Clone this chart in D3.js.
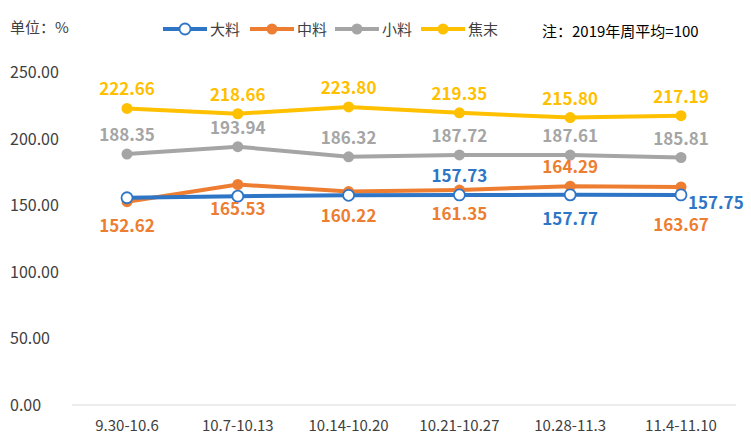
<!DOCTYPE html><html><head><meta charset="utf-8"><script src="https://cdn.jsdelivr.net/npm/d3@7"></script>
<style>body{margin:0;background:#fff}text{font-family:"Microsoft YaHei","Noto Sans CJK SC",sans-serif}</style></head><body>
<svg id="c" width="751" height="448"></svg>
<script>
const categories=["9.30-10.6","10.7-10.13","10.14-10.20","10.21-10.27","10.28-11.3","11.4-11.10"];
const daliao=[155.6,156.8,157.4,157.73,157.77,157.75];
const zhongliao=[152.62,165.53,160.22,161.35,164.29,163.67];
const xiaoliao=[188.35,193.94,186.32,187.72,187.61,185.81];
const jiaomo=[222.66,218.66,223.80,219.35,215.80,217.19];
const yTicks=[0,50,100,150,200,250];
const daliaoLabelPos=["none","none","none","above","below","right"];
const zhongliaoLabelPos=["below","below","below","below","above","belowfar"];
const series=[
 {name:"大料",vals:daliao,color:"#2E75C6",hollow:true,pos:daliaoLabelPos},
 {name:"中料",vals:zhongliao,color:"#ED7D31",pos:zhongliaoLabelPos},
 {name:"小料",vals:xiaoliao,color:"#A5A5A5",pos:categories.map(()=>"above")},
 {name:"焦末",vals:jiaomo,color:"#FFC000",pos:categories.map(()=>"above")}];
const svg=d3.select("#c");
const x=d3.scalePoint().domain(categories).range([127,681]);
const y=d3.scaleLinear().domain([0,250]).range([405,72]);
svg.append("line").attr("x1",72).attr("x2",736).attr("y1",y(0)).attr("y2",y(0)).attr("stroke","#d9d9d9");
yTicks.forEach(t=>svg.append("text").attr("x",10).attr("y",y(t)+6).attr("font-size",16).attr("fill","#404040").text(t.toFixed(2)));
categories.forEach(c=>svg.append("text").attr("x",x(c)).attr("y",431).attr("text-anchor","middle").attr("font-size",15).attr("fill","#404040").text(c));
const line=d3.line().x((d,i)=>x(categories[i])).y(d=>y(d));
[...series].reverse().forEach(s=>{
 svg.append("path").attr("d",line(s.vals)).attr("fill","none").attr("stroke",s.color).attr("stroke-width",4);
 s.vals.forEach((v,i)=>svg.append("circle").attr("cx",x(categories[i])).attr("cy",y(v)).attr("r",5.5)
  .attr("fill",s.hollow?"#fff":s.color).attr("stroke",s.color).attr("stroke-width",s.hollow?1.8:0));
});
series.forEach(s=>s.vals.forEach((v,i)=>{
 const p=s.pos[i]; if(p==="none")return;
 const cx=x(categories[i]),cy=y(v);
 const t=svg.append("text").attr("font-size",17).attr("font-weight","bold").attr("fill",s.color).text(v.toFixed(2));
 if(p==="above")t.attr("x",cx).attr("y",cy-13).attr("text-anchor","middle");
 else if(p==="below")t.attr("x",cx).attr("y",cy+30).attr("text-anchor","middle");
 else if(p==="belowfar")t.attr("x",cx).attr("y",cy+44).attr("text-anchor","middle");
 else t.attr("x",cx+7).attr("y",cy+14);
}));
svg.append("text").attr("x",10).attr("y",33).attr("font-size",15).attr("fill","#404040").text("单位：%");
svg.append("text").attr("x",542).attr("y",37).attr("font-size",15).attr("fill","#000").text("注：2019年周平均=100");
const lx=[163,250,335,421];
series.forEach((s,i)=>{
 const g=svg.append("g");
 g.append("line").attr("x1",lx[i]).attr("x2",lx[i]+44).attr("y1",29).attr("y2",29).attr("stroke",s.color).attr("stroke-width",4);
 g.append("circle").attr("cx",lx[i]+22).attr("cy",29).attr("r",5.5).attr("fill",s.hollow?"#fff":s.color).attr("stroke",s.color).attr("stroke-width",s.hollow?1.8:0);
 g.append("text").attr("x",lx[i]+47).attr("y",35).attr("font-size",15).attr("fill","#404040").text(s.name);
});
</script></body></html>
